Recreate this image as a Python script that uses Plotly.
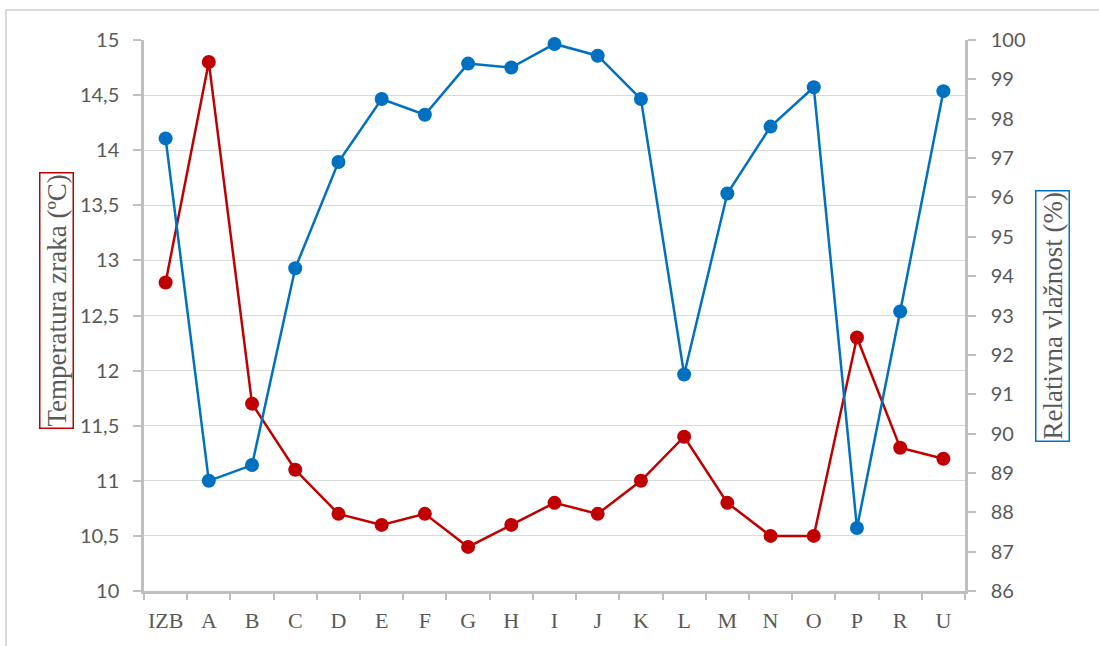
import plotly.graph_objects as go

categories = ["IZB", "A", "B", "C", "D", "E", "F", "G", "H", "I", "J", "K", "L", "M", "N", "O", "P", "R", "U"]
temperature = [12.8, 14.8, 11.7, 11.1, 10.7, 10.6, 10.7, 10.4, 10.6, 10.8, 10.7, 11.0, 11.4, 10.8, 10.5, 10.5, 12.3, 11.3, 11.2]
humidity = [97.5, 88.8, 89.2, 94.2, 96.9, 98.5, 98.1, 99.4, 99.3, 99.9, 99.6, 98.5, 91.5, 96.1, 97.8, 98.8, 87.6, 93.1, 98.7]

RED = "#C00000"
BLUE = "#0070C0"
W, H = 1099, 646
L, R, T, B = 144, 134, 40, 55
pw, ph = W - L - R, H - T - B

fig = go.Figure()
fig.add_trace(go.Scatter(x=categories, y=humidity, mode="lines+markers", yaxis="y2",
                         line=dict(color=BLUE, width=2.5), marker=dict(size=14, color=BLUE),
                         name="Relativna vlažnost", cliponaxis=False))
fig.add_trace(go.Scatter(x=categories, y=temperature, mode="lines+markers",
                         line=dict(color=RED, width=2.5), marker=dict(size=14, color=RED),
                         name="Temperatura zraka", cliponaxis=False))

tickfont = dict(family="Lato, Carlito, sans-serif", size=20, color="#595959")
serif = "Liberation Serif, Times New Roman, serif"
fig.update_layout(
    width=W, height=H,
    margin=dict(l=L, r=R, t=T, b=B),
    paper_bgcolor="white", plot_bgcolor="white",
    showlegend=False,
    separators=", ",
    xaxis=dict(type="category", range=[-0.5, 18.5], showline=True, linecolor="#BFBFBF", linewidth=2.5,
               ticks="outside", tickson="boundaries", ticklen=6, tickwidth=2, tickcolor="#BFBFBF",
               showgrid=False, tickangle=0, automargin=False, ticklabelstandoff=8,
               tickfont=dict(family=serif, size=22, color="#595959")),
    yaxis=dict(range=[10, 15], dtick=0.5, showline=True, linecolor="#BFBFBF", linewidth=2.5,
               ticks="outside", ticklen=8, tickwidth=2, tickcolor="#BFBFBF", automargin=False,
               gridcolor="#D9D9D9", gridwidth=1.3, zeroline=False, tickfont=tickfont,
               ticklabelstandoff=10),
    yaxis2=dict(range=[86, 100], dtick=1, overlaying="y", side="right", showline=True,
                linecolor="#BFBFBF", linewidth=2.5, ticks="outside", ticklen=8, tickwidth=2,
                tickcolor="#BFBFBF", showgrid=False, zeroline=False, tickfont=tickfont,
                ticklabelstandoff=11, automargin=False),
)

def px(x):
    return (x - L) / pw

def py(y):
    return (H - B - y) / ph

fig.add_shape(type="rect", xref="paper", yref="paper",
              x0=px(6), x1=px(1120), y0=py(670), y1=py(10),
              line=dict(color="#D9D9D9", width=2), layer="below")

fig.add_annotation(text="Temperatura zraka (ºC)", xref="paper", yref="paper",
                   x=px(56), y=py(301), textangle=-90, showarrow=False,
                   font=dict(family=serif, size=27, color="#595959"),
                   bordercolor=RED, borderwidth=1.5, borderpad=1, xanchor="center", yanchor="middle")
fig.add_annotation(text="Relativna vlažnost (%)", xref="paper", yref="paper",
                   x=px(1052), y=py(316), textangle=-90, showarrow=False,
                   font=dict(family=serif, size=27, color="#595959"),
                   bordercolor=BLUE, borderwidth=1.5, borderpad=1, xanchor="center", yanchor="middle")

fig.write_html("out.html", config={"displayModeBar": False},
               post_script="document.body.style.margin='0';document.body.style.overflow='hidden';")
